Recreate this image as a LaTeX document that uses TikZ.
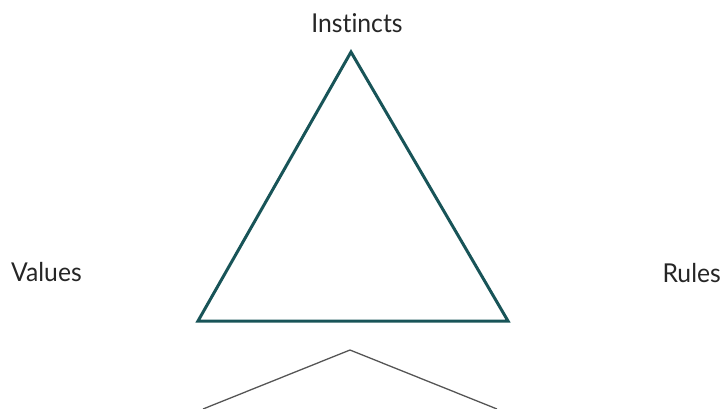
\documentclass[tikz,border=0pt]{standalone}
\usepackage{fontspec}
\setmainfont[Ligatures={NoCommon,NoRare}]{Lato}
\definecolor{teal1}{RGB}{24,84,88}
\definecolor{greyline}{RGB}{85,85,85}
\tikzset{
  lbl/.style={inner sep=0pt, font=\fontsize{26}{30}\selectfont, text=black!85},
  tri/.style={draw=teal1, line width=3pt, line join=miter},
  roof/.style={draw=greyline, line width=1.3pt}
}
\begin{document}
\begin{tikzpicture}[x=1pt,y=-1pt]
\useasboundingbox (0,0) rectangle (726,408);
\clip (0,0) rectangle (726,408);
\coordinate (apex) at (351,52);
\coordinate (bl) at (198,321);
\coordinate (br) at (508,321);
\coordinate (rtop) at (350,350);
\coordinate (rl) at (203,409);
\coordinate (rr) at (497,409);
\draw[tri] (apex) -- (bl) -- (br) -- cycle;
\draw[roof] (rl) -- (rtop) -- (rr);
\node[lbl, anchor=base] (instincts) at (357,32) {\scalebox{0.95}[1]{Ins\kern0pt tinc\kern0pt ts}};
\node[lbl, anchor=base west] (values) at (11,281) {\scalebox{0.95}[1]{Values}};
\node[lbl, anchor=base east] (rules) at (721,282) {\scalebox{0.95}[1]{Rules}};
\end{tikzpicture}
\end{document}
